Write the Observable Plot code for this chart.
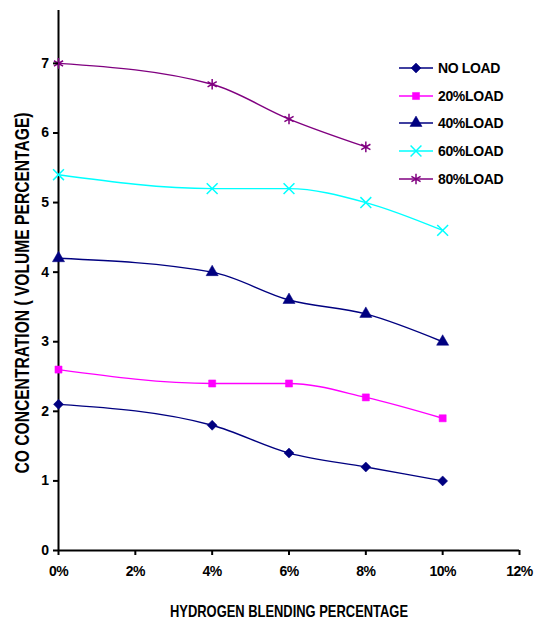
<!DOCTYPE html>
<html>
<head>
<meta charset="utf-8">
<script src="https://cdn.jsdelivr.net/npm/d3@7"></script>
<script src="https://cdn.jsdelivr.net/npm/@observablehq/plot@0.6"></script>
<style>
  html, body { margin: 0; padding: 0; background: #fff; }
  #wrap { position: relative; width: 540px; height: 619px; font-family: Arial, "Liberation Sans", sans-serif; }
  #legend { position: absolute; left: 398px; top: 54px; width: 110px; overflow: hidden; }
  .row { display: flex; align-items: center; height: 27.7px; white-space: nowrap; }
  .row span { font-size: 14px; font-weight: bold; letter-spacing: -0.35px; margin-left: 4px; }
  svg text { font-family: Arial, "Liberation Sans", sans-serif; }
  g[aria-label="x-axis tick label"] text, g[aria-label="y-axis tick label"] text { letter-spacing: -0.5px; }
</style>
</head>
<body>
<div id="wrap"><div id="chart"></div><div id="legend"></div></div>
<script>
const hydrogen = [0, 4, 6, 8, 10];
const hydrogen80 = [0, 4, 6, 8];
const noLoad = [2.1, 1.8, 1.4, 1.2, 1.0];
const load20 = [2.6, 2.4, 2.4, 2.2, 1.9];
const load40 = [4.2, 4.0, 3.6, 3.4, 3.0];
const load60 = [5.4, 5.2, 5.2, 5.0, 4.6];
const load80 = [7.0, 6.7, 6.2, 5.8];
const xTicks = [0, 2, 4, 6, 8, 10, 12];
const yTicks = [0, 1, 2, 3, 4, 5, 6, 7];
const seriesNames = ["NO LOAD", "20%LOAD", "40%LOAD", "60%LOAD", "80%LOAD"];
const xTitle = "HYDROGEN BLENDING PERCENTAGE";
const yTitle = "CO CONCENTRATION ( VOLUME PERCENTAGE)";

const series = [
  {name: seriesNames[0], xs: hydrogen, ys: noLoad, color: "#000080", symbol: "diamond2", fill: true, r: 4.5},
  {name: seriesNames[1], xs: hydrogen, ys: load20, color: "#FF00FF", symbol: "square", fill: true, r: 4},
  {name: seriesNames[2], xs: hydrogen, ys: load40, color: "#000080", symbol: "triangle", fill: true, r: 4.5},
  {name: seriesNames[3], xs: hydrogen, ys: load60, color: "#00FFFF", symbol: "times", fill: false, r: 5},
  {name: seriesNames[4], xs: hydrogen80, ys: load80, color: "#800080", symbol: "asterisk", fill: false, r: 5}
];

const marks = [];
for (const s of series) {
  const data = s.xs.map((x, i) => ({x, y: s.ys[i]}));
  marks.push(Plot.line(data, {x: "x", y: "y", stroke: s.color, strokeWidth: 1.4, curve: "monotone-x"}));
}
marks.push(Plot.ruleX([0], {stroke: "#000", strokeWidth: 2}));
marks.push(Plot.ruleY([0], {stroke: "#000", strokeWidth: 2}));
for (const s of series) {
  const data = s.xs.map((x, i) => ({x, y: s.ys[i]}));
  marks.push(Plot.dot(data, {
    x: "x", y: "y", symbol: () => s.symbol, r: s.r,
    fill: s.fill ? s.color : "none", stroke: s.color, strokeWidth: s.fill ? 0.5 : 1.5
  }));
}
marks.push(Plot.axisX({
  ticks: xTicks, tickSize: 5, tickPadding: 11, tickFormat: d => d + "%",
  fontSize: 14, fontWeight: "bold", strokeWidth: 2, label: null
}));
marks.push(Plot.axisY({
  ticks: yTicks, tickSize: 5, tickPadding: 5, tickFormat: d => String(d),
  fontSize: 14, fontWeight: "bold", strokeWidth: 2, label: null
}));
marks.push(Plot.text([xTitle], {
  text: d => d, frameAnchor: "bottom", dy: 61, lineAnchor: "middle",
  fontSize: 16.5, fontWeight: "bold", fill: "#000"
}));
marks.push(Plot.text([yTitle], {
  text: d => d, frameAnchor: "left", dx: -35.5, dy: 193, rotate: -90, lineAnchor: "middle", textAnchor: "start",
  fontSize: 20, fontWeight: "bold", fill: "#000"
}));

const chart = Plot.plot({
  width: 540, height: 619,
  marginTop: 10, marginBottom: 69, marginLeft: 58, marginRight: 21,
  x: {domain: [0, 12]},
  y: {domain: [0, 7.76]},
  style: {fontFamily: "Arial, 'Liberation Sans', sans-serif", color: "#000", background: "#fff"},
  marks
});
document.getElementById("chart").appendChild(chart);

// compress the axis titles to the narrow lettering of the original
d3.select(chart).selectAll("text").each(function() {
  if (this.textContent === xTitle) d3.select(this).attr("textLength", 238).attr("lengthAdjust", "spacingAndGlyphs");
  if (this.textContent === yTitle) d3.select(this).attr("textLength", 361).attr("lengthAdjust", "spacingAndGlyphs");
});

// legend
const legend = d3.select("#legend");
const symMap = {diamond2: d3.symbolDiamond2, square: d3.symbolSquare, triangle: d3.symbolTriangle, times: d3.symbolTimes, asterisk: d3.symbolAsterisk};
for (const s of series) {
  const row = legend.append("div").attr("class", "row");
  const sv = row.append("svg").attr("width", 36).attr("height", 14);
  sv.append("line").attr("x1", 1).attr("x2", 35).attr("y1", 7).attr("y2", 7).attr("stroke", s.color).attr("stroke-width", 1.4);
  const sym = d3.symbol(symMap[s.symbol], Math.PI * s.r * s.r);
  sv.append("path").attr("d", sym()).attr("transform", "translate(18,7)")
    .attr("fill", s.fill ? s.color : "none").attr("stroke", s.color).attr("stroke-width", s.fill ? 0.5 : 1.5);
  row.append("span").text(s.name);
}
</script>
</body>
</html>
